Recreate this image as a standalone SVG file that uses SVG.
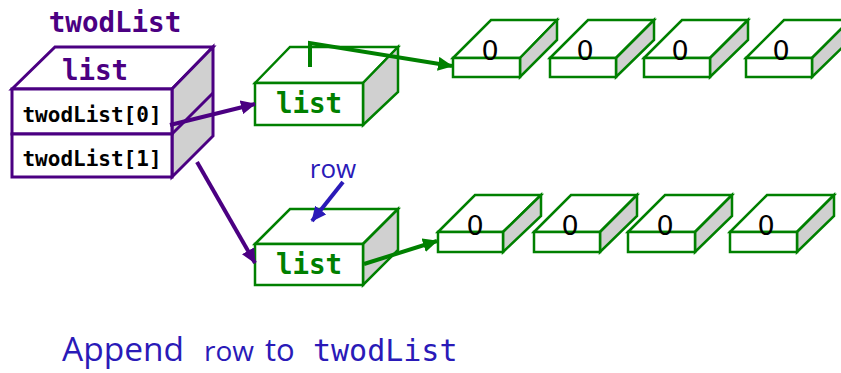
<svg xmlns="http://www.w3.org/2000/svg" width="841" height="373" viewBox="0 0 841 373">
<defs>
<style>
.pf{fill:#fff;stroke:#4b0082;stroke-width:3;stroke-linejoin:miter}
.ps{fill:#d0d0d0;stroke:#4b0082;stroke-width:3}
.gf{fill:#fff;stroke:#008000;stroke-width:2.5}
.gs{fill:#d0d0d0;stroke:#008000;stroke-width:2.5}
.mono{font-family:"DejaVu Sans Mono","Liberation Mono",monospace;font-weight:bold}
.zero{font-family:"DejaVu Sans","Liberation Sans",sans-serif;font-size:27px;fill:#000;text-anchor:middle}
.blue{fill:#2a1ab8;font-family:"Open Sans","DejaVu Sans",sans-serif}
</style>
<marker id="ap" markerUnits="userSpaceOnUse" markerWidth="16" markerHeight="14" refX="14" refY="7" orient="auto"><path d="M0,0 L15,7 L0,14 Z" fill="#4b0082"/></marker>
<marker id="ag" markerUnits="userSpaceOnUse" markerWidth="16" markerHeight="14" refX="14" refY="7" orient="auto"><path d="M0,0 L15,7 L0,14 Z" fill="#008000"/></marker>
<marker id="ab" markerUnits="userSpaceOnUse" markerWidth="16" markerHeight="14" refX="14" refY="7" orient="auto"><path d="M0,0 L15,7 L0,14 Z" fill="#2a1ab8"/></marker>
</defs>
<rect width="841" height="373" fill="#fff"/>

<g id="twodList">
<text x="115" y="32" class="mono" font-size="27.5" fill="#4b0082" text-anchor="middle">twodList</text>
<polygon class="pf" points="12,89 55,47 213,47 172,89"/>
<polygon class="ps" points="172,89 213,47 213,136 172,177"/>
<line x1="172" y1="134" x2="213" y2="93" stroke="#4b0082" stroke-width="3"/>
<rect class="pf" x="12" y="89" width="160" height="45"/>
<rect class="pf" x="12" y="134" width="160" height="43"/>
<text x="95" y="80" class="mono" font-size="27.5" fill="#4b0082" text-anchor="middle">list</text>
<text x="92" y="122" class="mono" font-size="21" fill="#000" text-anchor="middle">twodList[0]</text>
<text x="92" y="166" class="mono" font-size="21" fill="#000" text-anchor="middle">twodList[1]</text>
</g>

<g id="list0">
<polygon class="gf" points="255,83 290,47 398,47 363,83"/>
<polygon class="gs" points="363,83 398,47 398,92 363,125"/>
<rect class="gf" x="255" y="83" width="108" height="42"/>
<text x="309" y="113" class="mono" font-size="27.5" fill="#008000" text-anchor="middle">list</text>
</g>

<g id="list1">
<polygon class="gf" points="255,244 290,209 398,209 363,244"/>
<polygon class="gs" points="363,244 398,209 398,250 363,285"/>
<rect class="gf" x="255" y="244" width="108" height="41"/>
<text x="309" y="274" class="mono" font-size="27.5" fill="#008000" text-anchor="middle">list</text>
</g>

<g id="row0">
<g id="r0c0"><polygon class="gf" points="453,58 491,20 557,20 520,58"/><polygon class="gs" points="520,58 557,20 557,40 520,77"/><rect class="gf" x="453" y="58" width="67" height="19"/><text x="490" y="60" class="zero">0</text></g>
<g id="r0c1"><polygon class="gf" points="550,58 588,20 654,20 616,58"/><polygon class="gs" points="616,58 654,20 654,40 616,77"/><rect class="gf" x="550" y="58" width="66" height="19"/><text x="585" y="60" class="zero">0</text></g>
<g id="r0c2"><polygon class="gf" points="644,58 682,20 748,20 710,58"/><polygon class="gs" points="710,58 748,20 748,40 710,77"/><rect class="gf" x="644" y="58" width="66" height="19"/><text x="680" y="60" class="zero">0</text></g>
<g id="r0c3"><polygon class="gf" points="746,58 784,20 850,20 812,58"/><polygon class="gs" points="812,58 850,20 850,40 812,77"/><rect class="gf" x="746" y="58" width="66" height="19"/><text x="781" y="60" class="zero">0</text></g>
</g>

<g id="row1">
<g id="r1c0"><polygon class="gf" points="438,232 475,195 541,195 503,232"/><polygon class="gs" points="503,232 541,195 541,216 503,252"/><rect class="gf" x="438" y="232" width="65" height="20"/><text x="475" y="235" class="zero">0</text></g>
<g id="r1c1"><polygon class="gf" points="534,232 571,195 637,195 600,232"/><polygon class="gs" points="600,232 637,195 637,216 600,252"/><rect class="gf" x="534" y="232" width="66" height="20"/><text x="570" y="235" class="zero">0</text></g>
<g id="r1c2"><polygon class="gf" points="628,232 665,195 732,195 695,232"/><polygon class="gs" points="695,232 732,195 732,216 695,252"/><rect class="gf" x="628" y="232" width="67" height="20"/><text x="665" y="235" class="zero">0</text></g>
<g id="r1c3"><polygon class="gf" points="730,232 767,195 834,195 797,232"/><polygon class="gs" points="797,232 834,195 834,216 797,252"/><rect class="gf" x="730" y="232" width="67" height="20"/><text x="766" y="235" class="zero">0</text></g>
</g>

<g id="rowLabel">
<text x="333" y="178" class="blue" font-size="26" text-anchor="middle">row</text>
</g>

<g id="connectors" fill="none">
<line x1="170" y1="125" x2="255" y2="104" stroke="#4b0082" stroke-width="4" marker-end="url(#ap)"/>
<line x1="197" y1="162" x2="255" y2="263" stroke="#4b0082" stroke-width="4" marker-end="url(#ap)"/>
<polyline points="310,67 310,43 452,66" stroke="#008000" stroke-width="4" marker-end="url(#ag)"/>
<line x1="364" y1="264" x2="437" y2="241" stroke="#008000" stroke-width="4" marker-end="url(#ag)"/>
<line x1="343" y1="182" x2="312" y2="221" stroke="#2a1ab8" stroke-width="4" marker-end="url(#ab)"/>
</g>

<g id="caption">
<text y="361" class="blue"><tspan x="62" font-size="33.5">Append</tspan><tspan x="204" font-size="28">row</tspan><tspan x="265" font-size="31">to</tspan><tspan x="313" font-size="30" font-family="'DejaVu Sans Mono','Liberation Mono',monospace">twodList</tspan></text>
</g>
</svg>
